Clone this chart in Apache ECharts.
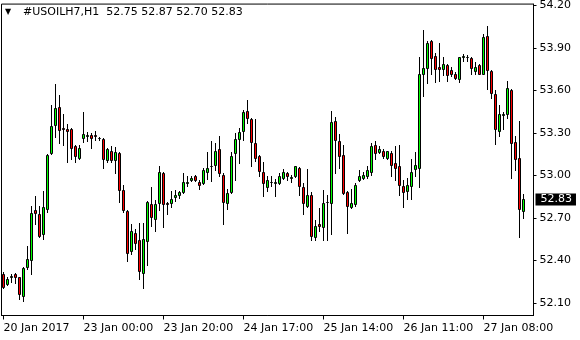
<!DOCTYPE html>
<html><head><meta charset="utf-8">
<script src="https://cdn.jsdelivr.net/npm/echarts@6/dist/echarts.min.js"></script>
<style>html,body{margin:0;padding:0;background:#fff}#c{width:580px;height:340px}</style>
</head><body><div id="c"></div>
<script>
const symbolName = '#USOILH7,H1';
const timeLabels = ['20 Jan 2017','23 Jan 00:00','23 Jan 20:00','24 Jan 17:00','25 Jan 14:00','26 Jan 11:00','27 Jan 08:00'];
const labelEvery = 20;
const yTicks = [52.10, 52.40, 52.70, 53.00, 53.30, 53.60, 53.90, 54.20];

const opens = [52.300,52.230,52.279,52.300,52.279,52.148,52.354,52.399,52.757,52.729,
52.588,52.764,53.158,53.354,53.481,53.336,53.326,53.326,53.209,53.122,
53.261,53.277,53.286,53.286,53.263,53.256,53.108,53.174,53.108,53.158,
52.900,52.745,52.469,52.595,52.542,52.312,52.537,52.799,52.691,52.804,
53.017,52.806,52.804,52.846,52.860,52.881,52.944,52.968,52.996,52.956,
52.944,53.022,53.064,53.073,53.186,53.005,52.804,52.881,53.158,53.256,
53.312,53.455,53.399,53.230,53.137,53.024,52.916,52.951,52.944,52.944,
52.982,53.019,52.984,52.996,53.052,52.921,52.783,52.858,52.567,52.659,
52.635,52.809,52.804,53.383,53.244,53.144,52.884,52.776,52.797,52.968,
52.982,52.996,53.022,53.214,53.162,53.174,53.120,53.160,53.087,53.068,
52.926,52.893,52.923,53.043,53.050,53.717,53.760,53.947,53.841,53.764,
53.752,53.778,53.743,53.717,53.682,53.839,53.834,53.827,53.736,53.778,
53.717,53.982,53.736,53.572,53.310,53.427,53.432,53.600,53.237,53.122,
52.75];
const closes = [52.214,52.268,52.289,52.284,52.160,52.349,52.406,52.736,52.734,52.572,
52.780,53.144,53.347,53.474,53.324,53.331,53.310,53.190,53.134,53.193,
53.294,53.286,53.261,53.277,53.263,53.113,53.186,53.111,53.167,52.895,
52.755,52.455,52.610,52.523,52.326,52.549,52.809,52.706,52.799,53.026,
52.799,52.797,52.834,52.858,52.879,52.956,52.954,52.984,52.968,52.930,
53.041,53.052,53.069,53.174,53.015,52.811,52.877,53.139,53.256,53.308,
53.448,53.404,53.233,53.120,53.034,52.947,52.970,52.956,52.954,52.996,
53.024,52.994,52.989,53.066,52.923,52.804,52.862,52.572,52.645,52.642,
52.806,52.813,53.378,53.251,53.134,52.874,52.783,52.806,52.935,52.998,
53.005,53.041,53.209,53.155,53.188,53.137,53.169,53.073,53.050,52.933,
52.881,52.933,53.026,53.075,53.713,53.755,53.933,53.830,53.752,53.752,
53.785,53.710,53.717,53.689,53.834,53.844,53.839,53.755,53.764,53.717,
53.977,53.741,53.584,53.326,53.432,53.432,53.614,53.232,53.115,52.762,
52.83];
const lows = [52.207,52.225,52.249,52.237,52.127,52.115,52.342,52.300,52.659,52.565,
52.551,52.741,53.151,53.272,53.226,53.216,53.092,53.113,53.092,53.116,
53.237,53.240,53.190,53.251,53.251,53.050,53.097,53.094,53.017,52.811,
52.741,52.396,52.441,52.478,52.265,52.207,52.366,52.640,52.607,52.752,
52.635,52.724,52.780,52.818,52.841,52.874,52.926,52.963,52.958,52.902,
52.940,52.977,52.963,53.038,52.998,52.654,52.759,52.877,52.970,53.085,
53.251,53.368,53.069,53.104,52.998,52.851,52.893,52.928,52.853,52.940,
52.973,52.968,52.951,52.991,52.858,52.727,52.776,52.542,52.542,52.607,
52.542,52.542,52.588,53.015,53.050,52.870,52.593,52.771,52.785,52.963,
52.977,52.980,53.003,53.116,53.155,53.120,53.116,52.993,52.970,52.858,
52.776,52.830,52.830,52.998,52.916,53.560,53.649,53.717,53.659,53.666,
53.708,53.666,53.699,53.682,53.659,53.811,53.806,53.713,53.717,53.713,
53.713,53.612,53.549,53.225,53.279,53.326,53.403,52.980,53.040,52.565,
52.70];
const highs = [52.317,52.279,52.305,52.307,52.284,52.354,52.499,52.783,52.851,52.785,
52.886,53.151,53.497,53.647,53.568,53.436,53.361,53.338,53.216,53.214,
53.448,53.308,53.296,53.315,53.272,53.261,53.190,53.209,53.197,53.162,
52.935,52.755,52.659,52.624,52.666,52.666,52.816,52.921,52.823,53.069,
53.022,52.811,52.886,52.900,52.893,53.019,52.996,52.998,53.005,52.968,
53.050,53.167,53.244,53.228,53.277,53.019,52.905,53.165,53.296,53.333,
53.462,53.530,53.404,53.397,53.144,53.092,52.998,52.998,52.977,53.015,
53.045,53.026,53.001,53.066,53.062,52.947,53.048,52.884,52.687,52.769,
52.898,52.858,53.455,53.413,53.293,53.216,52.886,52.905,52.949,53.041,
53.024,53.066,53.230,53.242,53.207,53.186,53.174,53.169,53.209,53.216,
52.970,52.984,53.115,53.162,53.834,54.029,53.947,53.959,53.865,53.933,
53.834,53.788,53.764,53.729,53.839,53.858,53.853,53.834,53.802,53.788,
53.998,54.052,53.741,53.603,53.497,53.448,53.666,53.607,53.279,53.385,
52.87];

const bullColor = '#00ff00';
const bearColor = '#ff0000';
const n = opens.length;
const totalSlots = 133;
const categories = [];
for (let i = 0; i < totalSlots; i++) {
  const k = i / labelEvery;
  categories.push(i % labelEvery === 0 && k < timeLabels.length ? timeLabels[k] : '');
}
const candleData = opens.map((o, i) => [i, o, closes[i], lows[i], highs[i]]);
const last = n - 1;
const lastPrice = closes[last];
const ohlcText = [opens[last], highs[last], lows[last], closes[last]].map(v => v.toFixed(2)).join(' ');
const FONT = 'DejaVu Sans';
const showIdx = (i) => categories[i] !== '';
const snap = v => Math.round(v) + 0.5;

function renderCandle(params, api) {
  const i = api.value(0), o = api.value(1), c = api.value(2), l = api.value(3), h = api.value(4);
  const pO = api.coord([i, o]), pC = api.coord([i, c]), pL = api.coord([i, l]), pH = api.coord([i, h]);
  const cx = Math.floor(pO[0]) + 0.5;
  const yTop = snap(Math.min(pO[1], pC[1]));
  const yBot = snap(Math.max(pO[1], pC[1]));
  const fill = c > o ? bullColor : (c < o ? bearColor : '#000');
  return {
    type: 'group',
    children: [
      { type: 'line', shape: { x1: cx, y1: snap(pH[1]) - 0.5, x2: cx, y2: snap(pL[1]) + 0.5 }, style: { stroke: '#000', lineWidth: 1 } },
      { type: 'rect', shape: { x: cx - 1, y: yTop, width: 2, height: yBot - yTop }, style: { fill: fill, stroke: '#000', lineWidth: 1 } }
    ]
  };
}

const chart = echarts.init(document.getElementById('c'), null, {renderer: 'canvas'});
chart.setOption({
  animation: false,
  backgroundColor: '#fff',
  title: {
    left: 5, top: 5, padding: 0,
    text: '{tri|▼}' + symbolName + '  ' + ohlcText,
    textStyle: {
      color: '#000', fontFamily: FONT, fontSize: 11, fontWeight: 'normal', lineHeight: 14,
      rich: { tri: { fontSize: 8, width: 18, color: '#000', fontFamily: FONT, lineHeight: 14 } }
    }
  },
  grid: { left: 1.5, top: 2.5, width: 532, height: 313, show: true, borderColor: '#000', borderWidth: 1, backgroundColor: '#fff' },
  xAxis: {
    type: 'category', data: categories, boundaryGap: true,
    axisLine: { show: true, lineStyle: { color: '#000', width: 1 } },
    axisTick: { show: true, alignWithLabel: true, interval: showIdx, length: 4, lineStyle: { color: '#000' } },
    axisLabel: { interval: showIdx, align: 'left', color: '#000', fontFamily: FONT, fontSize: 11, margin: 7, hideOverlap: false },
    splitLine: { show: false }
  },
  yAxis: {
    type: 'value', position: 'right', min: 52.01, max: 54.21,
    axisLine: { show: true, lineStyle: { color: '#000' } },
    axisTick: { show: true, length: 3, customValues: yTicks, lineStyle: { color: '#000' } },
    axisLabel: { customValues: yTicks, formatter: v => v.toFixed(2), color: '#000', fontFamily: FONT, fontSize: 11, margin: 6 },
    splitLine: { show: false }
  },
  series: [{
    type: 'custom',
    data: candleData,
    encode: { x: 0, y: [1, 2, 3, 4] },
    renderItem: renderCandle,
    clip: true,
    silent: true,
    markLine: {
      silent: true, animation: false, symbol: ['none', 'none'],
      data: [{ yAxis: lastPrice }],
      lineStyle: { color: 'rgba(0,0,0,0)', width: 1, type: 'solid' },
      label: { show: true, position: 'end', distance: 2, formatter: lastPrice.toFixed(2), backgroundColor: '#000', color: '#fff', fontFamily: FONT, fontSize: 11, padding: [1, 4, 0, 5] }
    }
  }]
});
</script></body></html>
